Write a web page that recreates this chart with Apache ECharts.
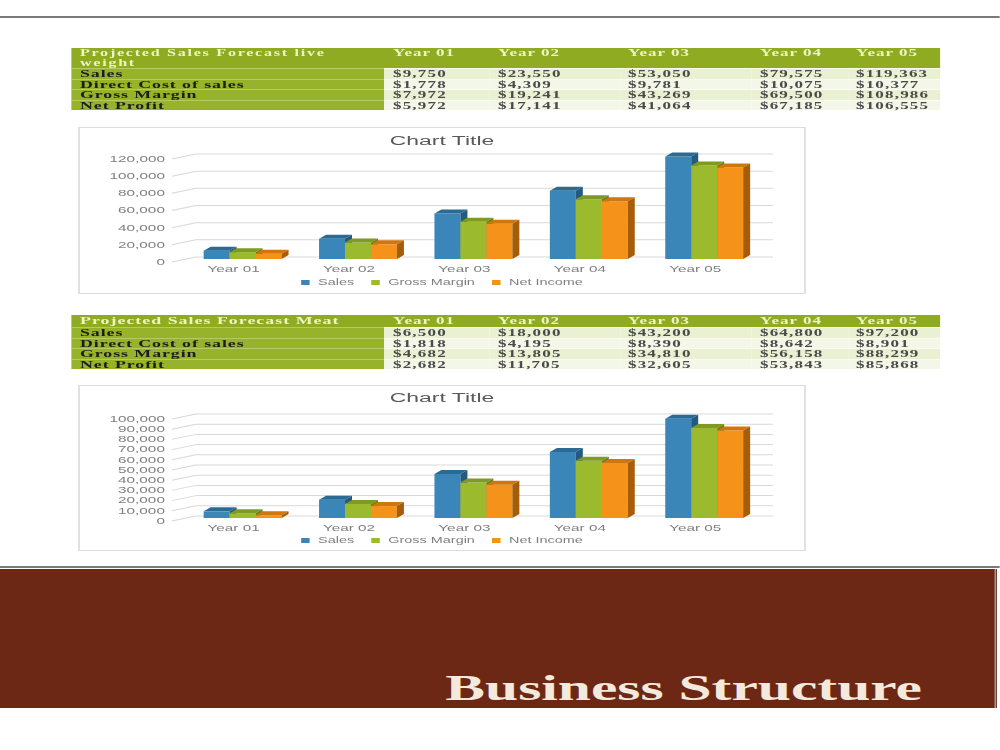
<!DOCTYPE html>
<html>
<head>
<meta charset="utf-8">
<script src="https://cdn.jsdelivr.net/npm/echarts@6/dist/echarts.min.js"></script>
<style>
  html, body { margin: 0; padding: 0; background: #fff; width: 1000px; height: 750px; overflow: hidden; }
  #page { position: absolute; left: 0; top: 0; height: 750px; transform-origin: 0 0; }
  #page div { position: absolute; box-sizing: border-box; }
  .tbl-head { background: #8fab22; }
  .tbl-title { color: #eef2c6; font: bold 10.5px "Liberation Serif", serif; letter-spacing: 0.6px; white-space: nowrap; }
  .tbl-title.small { font-size: 9.5px; letter-spacing: 1px; }
  .tbl-year { color: #eef2c6; font: bold 10px "Liberation Serif", serif; letter-spacing: 0.6px; white-space: nowrap; }
  .tbl-label { background: #97b22b; color: #1c1c1c; font: bold 10.5px "Liberation Serif", serif; letter-spacing: 0.55px; white-space: nowrap; border-top: 1px solid #b6ca62; }
  .tbl-val { background: #eaf0d2; color: #4a4a4a; font: bold 10px "Liberation Serif", serif; letter-spacing: 0.7px; white-space: nowrap; border-top: 1px solid #fafbf2; }
  .tbl-val.alt { background: #f4f7e7; }
  .chart-box { border: 1px solid #dcdcdc; background: #fff; }
  .rule { background: #7a7a7a; }
  .banner { background: #6c2815; border-right: 1px solid #9a9a9a; }
  .banner-text { color: #f3e9dc; font: bold 35px "Liberation Serif", serif; line-height: 35px; text-align: right; white-space: nowrap; }
</style>
</head>
<body>
<div id="page"></div>
<script>
// the source page is stretched sideways, so everything is drawn narrow and scaled
var S = 1.7;

var years = ['Year 01', 'Year 02', 'Year 03', 'Year 04', 'Year 05'];
var seriesNames = ['Sales', 'Gross Margin', 'Net Income'];
var rowNames = ['Sales', 'Direct Cost of sales', 'Gross Margin', 'Net Profit'];

// table 1 : live weight
var liveTitle = ['Projected Sales Forecast live', 'weight'];
var liveSales = [9750, 23550, 53050, 79575, 119363];
var liveCost = [1778, 4309, 9781, 10075, 10377];
var liveGross = [7972, 19241, 43269, 69500, 108986];
var liveNet = [5972, 17141, 41064, 67185, 106555];
var liveTicks = [0, 20000, 40000, 60000, 80000, 100000, 120000];

// table 2 : meat
var meatTitle = ['Projected Sales Forecast Meat'];
var meatSales = [6500, 18000, 43200, 64800, 97200];
var meatCost = [1818, 4195, 8390, 8642, 8901];
var meatGross = [4682, 13805, 34810, 56158, 88299];
var meatNet = [2682, 11705, 32605, 53843, 85868];
var meatTicks = [0, 10000, 20000, 30000, 40000, 50000, 60000, 70000, 80000, 90000, 100000];

var barColors = [
	{ front: '#3a86b8', top: '#2b6a94', side: '#245a80' },
	{ front: '#9bba2d', top: '#7e9a22', side: '#68821c' },
	{ front: '#f5921a', top: '#cf760e', side: '#a65d09' }
];

var page = document.getElementById('page');
page.style.width = (1000 / S) + 'px';
page.style.transform = 'scaleX(' + S + ')';

/**
 * 放置元素 (x,w 为最终页面像素)
 */
function place(el, x, y, w, h) {
	el.style.left = (x / S) + 'px';
	el.style.top = y + 'px';
	if (w != null) el.style.width = (w / S) + 'px';
	if (h != null) el.style.height = h + 'px';
	return el;
}

function addDiv(cls) {
	var d = document.createElement('div');
	d.className = cls;
	page.appendChild(d);
	return d;
}

function money(v) {
	return '$' + v.toLocaleString('en-US');
}

var colX = [72, 385, 490, 620, 752, 848, 940];
var ROW_H = 10.5;
var PAD = 8 / S;

function buildTable(top, headH, titleLines, rows) {
	place(addDiv('tbl-head'), colX[0], top, colX[6] - colX[0], headH);
	// one div per title line so the lines never share a box
	var lineH = headH / titleLines.length;
	for (var n = 0; n < titleLines.length; n++) {
		var t = place(addDiv('tbl-title' + (titleLines.length > 1 ? ' small' : '')), colX[0], top + n * lineH, colX[1] - colX[0], lineH);
		t.style.paddingLeft = PAD + 'px';
		t.style.lineHeight = lineH + 'px';
		t.textContent = titleLines[n];
	}
	for (var i = 0; i < years.length; i++) {
		var c = place(addDiv('tbl-year'), colX[i + 1], top, colX[i + 2] - colX[i + 1], lineH);
		c.style.paddingLeft = PAD + 'px';
		c.style.lineHeight = lineH + 'px';
		c.textContent = years[i];
	}
	for (var j = 0; j < rows.length; j++) {
		var ry = top + headH + j * ROW_H;
		var lab = place(addDiv('tbl-label'), colX[0], ry, colX[1] - colX[0], ROW_H);
		lab.style.paddingLeft = PAD + 'px';
		lab.style.lineHeight = (ROW_H - 1) + 'px';
		lab.textContent = rowNames[j];
		for (var k = 0; k < rows[j].length; k++) {
			var v = place(addDiv('tbl-val' + (j % 2 ? ' alt' : '')), colX[k + 1], ry, colX[k + 2] - colX[k + 1], ROW_H);
			v.style.paddingLeft = PAD + 'px';
			v.style.lineHeight = (ROW_H - 1) + 'px';
			v.textContent = money(rows[j][k]);
		}
	}
}

// top rule
place(addDiv('rule'), 0, 16, 1000, 2);

buildTable(48, 20, liveTitle, [liveSales, liveCost, liveGross, liveNet]);
buildTable(315, 12, meatTitle, [meatSales, meatCost, meatGross, meatNet]);

// 3D look: back wall offset and bar offset / depth (page px, divided by S)
var WALL_DX = 20 / S, WALL_DY = -5;
var BAR_DX = 9 / S, BAR_DY = -3;
var DEPTH_X = 7 / S, DEPTH_Y = -4;
var BAR_RATIO = 0.225;

function gridRender(params, api) {
	var cs = params.coordSys;
	var y = api.coord([0, api.value(1)])[1];
	var xl = cs.x, xr = cs.x + cs.width;
	var st = { stroke: '#d9d9d9', lineWidth: 1, fill: null };
	return {
		type: 'group',
		children: [
			{ type: 'line', shape: { x1: xl - 4 / S, y1: y, x2: xl + WALL_DX, y2: y + WALL_DY }, style: st },
			{ type: 'line', shape: { x1: xl + WALL_DX, y1: y + WALL_DY, x2: xr + WALL_DX, y2: y + WALL_DY }, style: st }
		]
	};
}

function barRender(idx) {
	var c = barColors[idx];
	return function (params, api) {
		var cat = api.value(0);
		var band = api.size([1, 0])[0];
		var w = band * BAR_RATIO;
		var base = api.coord([cat, 0]);
		var top = api.coord([cat, api.value(1)]);
		var x0 = base[0] - 1.5 * w + idx * w + BAR_DX;
		var y0 = base[1] + BAR_DY;
		var y1 = top[1] + BAR_DY;
		return {
			type: 'group',
			children: [
				{ type: 'rect', shape: { x: x0, y: y1, width: w, height: y0 - y1 }, style: { fill: c.front } },
				{ type: 'polygon', shape: { points: [[x0, y1], [x0 + w, y1], [x0 + w + DEPTH_X, y1 + DEPTH_Y], [x0 + DEPTH_X, y1 + DEPTH_Y]] }, style: { fill: c.top } },
				{ type: 'polygon', shape: { points: [[x0 + w, y1], [x0 + w + DEPTH_X, y1 + DEPTH_Y], [x0 + w + DEPTH_X, y0 + DEPTH_Y], [x0 + w, y0]] }, style: { fill: c.side } }
			]
		};
	};
}

function pairs(arr) {
	return arr.map(function (v, i) { return [i, v]; });
}

function makeOption(sets, ticks, titleTop, gridTop, gridH, legendTop) {
	var series = [{
		type: 'custom',
		name: 'grid',
		renderItem: gridRender,
		data: ticks.map(function (v) { return [0, v]; }),
		silent: true,
		z: 1
	}];
	for (var i = 0; i < sets.length; i++) {
		series.push({
			type: 'custom',
			name: seriesNames[i],
			renderItem: barRender(i),
			itemStyle: { color: barColors[i].front },
			data: pairs(sets[i]),
			z: 2
		});
	}
	return {
		animation: false,
		title: {
			text: 'Chart Title',
			left: 'center',
			top: titleTop,
			padding: 0,
			textStyle: { fontFamily: 'Liberation Sans', fontSize: 13.5, fontWeight: 'normal', color: '#595959' }
		},
		legend: {
			data: seriesNames,
			left: 'center',
			top: legendTop,
			padding: 0,
			icon: 'rect',
			itemWidth: 5,
			itemHeight: 5,
			itemGap: 10,
			textStyle: { fontFamily: 'Liberation Sans', fontSize: 8.5, color: '#7f7f7f' }
		},
		grid: { left: 96 / S, top: gridTop, width: 577 / S, height: gridH },
		xAxis: {
			type: 'category',
			data: years,
			axisLine: { show: false },
			axisTick: { show: false },
			axisLabel: { margin: 3, fontFamily: 'Liberation Sans', fontSize: 9, color: '#7f7f7f' }
		},
		yAxis: {
			type: 'value',
			min: ticks[0],
			max: ticks[ticks.length - 1],
			interval: ticks[1] - ticks[0],
			axisLine: { show: false },
			axisTick: { show: false },
			splitLine: { show: false },
			axisLabel: {
				margin: 11 / S,
				fontFamily: 'Liberation Sans',
				fontSize: 9,
				color: '#7f7f7f',
				formatter: function (v) { return v.toLocaleString('en-US'); }
			}
		},
		series: series
	};
}

function buildChart(y, h, option) {
	var box = place(addDiv('chart-box'), 78, y, 728, h);
	var chart = echarts.init(box, null, { renderer: 'svg' });
	chart.setOption(option);
	return chart;
}

buildChart(127, 167, makeOption([liveSales, liveGross, liveNet], liveTicks, 5, 31, 103, 150));
buildChart(385, 166, makeOption([meatSales, meatGross, meatNet], meatTicks, 4, 33, 102, 150));

// section banner
place(addDiv('rule'), 0, 566, 1000, 2);
place(addDiv('banner'), 0, 569, 996, 139);
var bt = place(addDiv('banner-text'), 0, 671, 922, 35);
bt.textContent = 'Business Structure';
</script>
</body>
</html>
